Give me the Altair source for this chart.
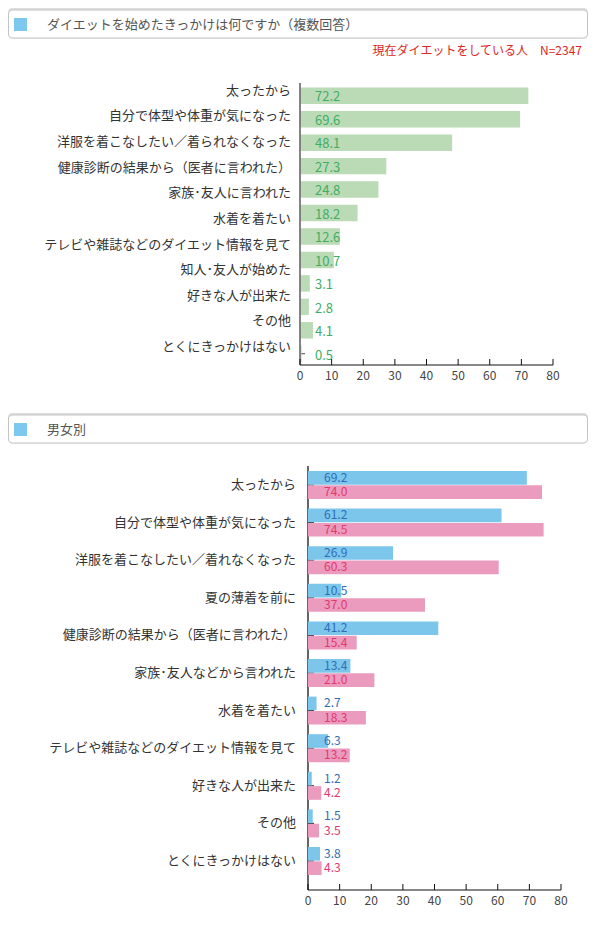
import altair as alt
import pandas as pd

FONT = "Noto Sans CJK JP"

# ---------------- data ----------------
title1 = "ダイエットを始めたきっかけは何ですか（複数回答）"
note1 = "現在ダイエットをしている人　N=2347"
labels1 = [
    "太ったから",
    "自分で体型や体重が気になった",
    "洋服を着こなしたい／着られなくなった",
    "健康診断の結果から（医者に言われた）",
    "家族･友人に言われた",
    "水着を着たい",
    "テレビや雑誌などのダイエット情報を見て",
    "知人･友人が始めた",
    "好きな人が出来た",
    "その他",
    "とくにきっかけはない",
]
keys1 = [
    "太ったから",
    "自分で体型や体重が気になった",
    "洋服を着こなしたい／着られなくなった",
    "夏の薄着を前に",
    "健康診断の結果から（医者に言われた）",
    "家族･友人に言われた",
    "水着を着たい",
    "テレビや雑誌などのダイエット情報を見て",
    "知人･友人が始めた",
    "好きな人が出来た",
    "その他",
    "とくにきっかけはない",
]
values1 = [72.2, 69.6, 48.1, 27.3, 24.8, 18.2, 12.6, 10.7, 3.1, 2.8, 4.1, 0.5]

title2 = "男女別"
cats2 = [
    "太ったから",
    "自分で体型や体重が気になった",
    "洋服を着こなしたい／着れなくなった",
    "夏の薄着を前に",
    "健康診断の結果から（医者に言われた）",
    "家族･友人などから言われた",
    "水着を着たい",
    "テレビや雑誌などのダイエット情報を見て",
    "好きな人が出来た",
    "その他",
    "とくにきっかけはない",
]
series2 = ["男性", "女性"]
male2 = [69.2, 61.2, 26.9, 10.5, 41.2, 13.4, 2.7, 6.3, 1.2, 1.5, 3.8]
female2 = [74.0, 74.5, 60.3, 37.0, 15.4, 21.0, 18.3, 13.2, 4.2, 3.5, 4.3]

ticks = [0, 10, 20, 30, 40, 50, 60, 70, 80]

# ---------------- layout ----------------
W = 580
H1 = 356
H2 = 481

df_one = pd.DataFrame({"k": [0]})
df_ticks = pd.DataFrame({"t": ticks})


def header(top, text):
    base = alt.Chart(df_one)
    shadow = base.mark_rect(fill="#dedede", cornerRadius=4).encode(
        x=alt.value(0), x2=alt.value(W), y=alt.value(top - 1), y2=alt.value(top + 29.5)
    )
    box = base.mark_rect(fill="white", stroke="#c4c4c4", strokeWidth=1, cornerRadius=4).encode(
        x=alt.value(0.5), x2=alt.value(W - 0.5), y=alt.value(top + 1), y2=alt.value(top + 29)
    )
    sq = base.mark_rect(fill="#7dc8ee").encode(
        x=alt.value(6), x2=alt.value(19), y=alt.value(top + 9), y2=alt.value(top + 22)
    )
    txt = base.mark_text(align="left", baseline="middle", font=FONT, fontSize=13, color="#555").encode(
        x=alt.value(39), y=alt.value(top + 15.5), text=alt.value(text)
    )
    return [shadow, box, sq, txt]


def xaxis_layers(xs, H):
    domain = alt.Chart(df_one).mark_rule(color="#111", strokeWidth=1).encode(
        x=alt.XDatum(0, scale=xs, axis=None), x2=alt.datum(80), y=alt.value(H))
    tk = alt.Chart(df_ticks).mark_rule(color="#111", strokeWidth=1).encode(
        x=alt.X("t:Q", scale=xs, axis=None), y=alt.value(H - 6), y2=alt.value(H))
    lab = alt.Chart(df_ticks).mark_text(baseline="middle", align="center", font=FONT, fontSize=12,
                                        color="#444").encode(
        x=alt.X("t:Q", scale=xs, axis=None), y=alt.value(H + 10.5), text=alt.Text("t:Q", format="d"))
    return [domain, tk, lab]


# ---------------- panel 1 ----------------
df1 = pd.DataFrame({"key": keys1, "value": values1})
df1l = pd.DataFrame({"label": labels1})

x1 = alt.Scale(domain=[0, 80], range=[292, 545])
ybar1 = alt.Scale(domain=keys1, range=[74, 356], paddingInner=0.3, paddingOuter=0.162, align=0.6)
ylab1 = alt.Scale(domain=labels1, range=[74, 356], paddingInner=0, paddingOuter=0.14, align=0.3)

note = alt.Chart(df_one).mark_text(align="right", baseline="middle", font=FONT, fontSize=12,
                                   color="#e02424").encode(
    x=alt.value(574), y=alt.value(42), text=alt.value(note1))

ytick1 = alt.Chart(df1).mark_rule(color="#444", strokeWidth=1).encode(
    y=alt.Y("key:N", scale=ybar1, axis=None, sort=keys1, bandPosition=0.5),
    x=alt.value(292), x2=alt.value(297))

bars1 = alt.Chart(df1).mark_bar(color="#bbdab6").encode(
    x=alt.X("value:Q", scale=x1, axis=None),
    y=alt.Y("key:N", scale=ybar1, axis=None, sort=keys1))

vals1 = alt.Chart(df1).mark_text(align="left", baseline="middle", font=FONT, fontSize=13,
                                 color="#3fae64").encode(
    x=alt.value(307),
    y=alt.Y("key:N", scale=ybar1, axis=None, sort=keys1),
    text=alt.Text("value:Q", format=".1f"))

labs1 = alt.Chart(df1l).mark_text(align="right", baseline="middle", font=FONT, fontSize=13,
                                  color="#333").encode(
    x=alt.value(283),
    y=alt.Y("label:N", scale=ylab1, axis=None, sort=labels1),
    text="label:N")

yline1 = alt.Chart(df_one).mark_rule(color="#777", strokeWidth=1.8).encode(
    x=alt.XDatum(0, scale=x1, axis=None), y=alt.value(74), y2=alt.value(356))

panel1 = alt.layer(*header(0, title1), note, ytick1, bars1, vals1, labs1, yline1,
                   *xaxis_layers(x1, H1)).resolve_scale(
    y="independent").properties(width=W, height=H1)

# ---------------- panel 2 ----------------
df2 = pd.DataFrame({
    "cat": cats2 + cats2,
    "series": [series2[0]] * len(cats2) + [series2[1]] * len(cats2),
    "value": male2 + female2,
})
df2c = pd.DataFrame({"cat": cats2})

x2s = alt.Scale(domain=[0, 80], range=[300, 553])
y2s = alt.Scale(domain=cats2, range=[57, 481], paddingInner=0.255, paddingOuter=0.266, align=0.25)
yoff = alt.YOffset("series:N", sort=series2, scale=alt.Scale(domain=series2, paddingInner=0.05))

yline2 = alt.Chart(df_one).mark_rule(color="#333", strokeWidth=1.5).encode(
    x=alt.XDatum(0, scale=x2s, axis=None), y=alt.value(57), y2=alt.value(481))

ytick2 = alt.Chart(df2c).mark_rule(color="#333", strokeWidth=1.2).encode(
    y=alt.Y("cat:N", scale=y2s, axis=None, sort=cats2, bandPosition=0.5),
    x=alt.value(300), x2=alt.value(306))

bars2 = alt.Chart(df2).mark_bar().encode(
    x=alt.X("value:Q", scale=x2s, axis=None),
    y=alt.Y("cat:N", scale=y2s, axis=None, sort=cats2),
    yOffset=yoff,
    color=alt.Color("series:N", scale=alt.Scale(domain=series2, range=["#7cc6ec", "#eb9bbd"]), legend=None))

vals2 = alt.Chart(df2).mark_text(align="left", baseline="middle", font=FONT, fontSize=12).encode(
    x=alt.value(316),
    y=alt.Y("cat:N", scale=y2s, axis=None, sort=cats2),
    yOffset=yoff,
    text=alt.Text("value:Q", format=".1f"),
    color=alt.Color("series:N", scale=alt.Scale(domain=series2, range=["#2f6db5", "#e2386e"]), legend=None))

labs2 = alt.Chart(df2c).mark_text(align="right", baseline="middle", font=FONT, fontSize=13,
                                  color="#333").encode(
    x=alt.value(288),
    y=alt.Y("cat:N", scale=y2s, axis=None, sort=cats2),
    text="cat:N")

panel2 = alt.layer(*header(5, title2), yline2, ytick2, bars2, vals2, labs2,
                   *xaxis_layers(x2s, H2)).resolve_scale(
    color="independent").properties(width=W, height=H2)

chart = alt.vconcat(panel1, panel2, spacing=27).properties(padding=0).configure(
    font=FONT).configure_view(strokeWidth=0, stroke="transparent")

chart.save("out.html", embed_options={"renderer": "svg", "actions": False})
